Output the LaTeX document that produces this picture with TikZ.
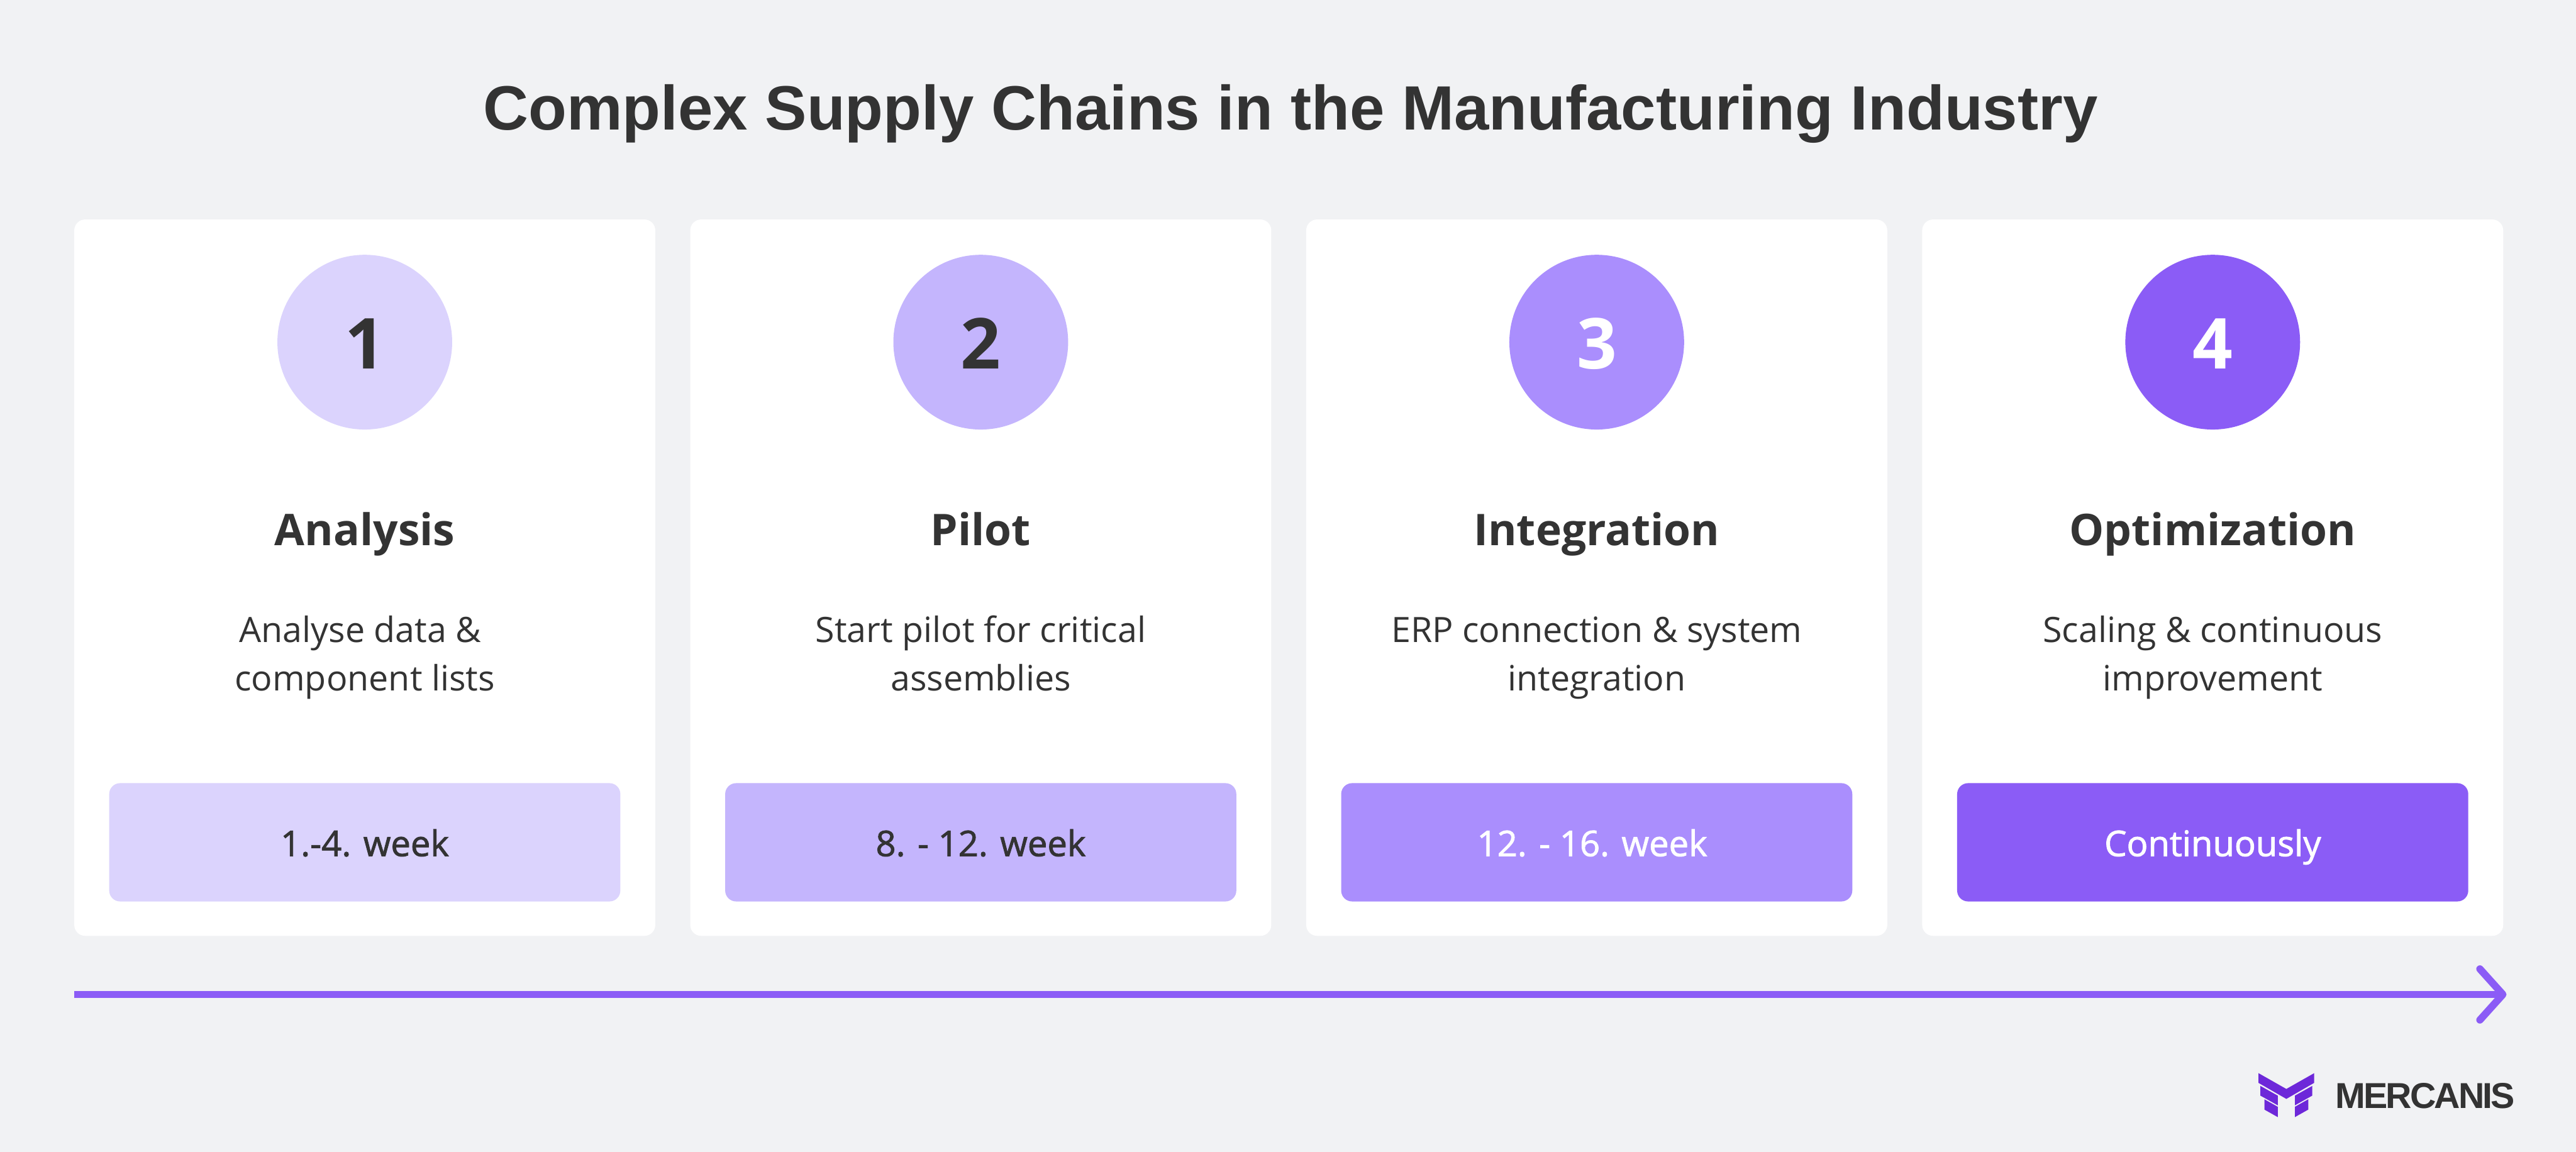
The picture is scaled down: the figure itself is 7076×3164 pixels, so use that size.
\documentclass[tikz,border=0pt]{standalone}
\usepackage{fontspec}
\setmainfont{Open Sans}
\newfontfamily\semifont[FakeBold=1.6]{Open Sans}
\newfontfamily\titlefont{Liberation Sans Bold}
\newfontfamily\logofont[LetterSpace=-5]{Liberation Sans Bold}
\definecolor{bgc}{HTML}{F1F2F4}
\definecolor{inkc}{HTML}{333333}
\definecolor{pa}{HTML}{DBD3FD}
\definecolor{pb}{HTML}{C4B5FD}
\definecolor{pc}{HTML}{AA8EFD}
\definecolor{pd}{HTML}{8B5CF6}
\definecolor{logoc}{HTML}{6D28D9}
\tikzset{
  cardbox/.style={fill=white,draw=none,rounded corners=30pt,minimum width=1596pt,minimum height=1968pt,inner sep=0pt,outer sep=0pt,anchor=north west},
  badge/.style={circle,fill=#1,draw=none,minimum size=480pt,inner sep=0pt,outer sep=0pt},
  pill/.style={fill=#1,draw=none,rounded corners=30pt,minimum width=1404pt,minimum height=325pt,inner sep=0pt,outer sep=0pt},
  numtxt/.style={text=#1,font={\fontsize{193}{193}\selectfont\bfseries},anchor=base},
  headtxt/.style={text=inkc,font={\fontsize{120}{120}\selectfont\bfseries},anchor=base},
  desctxt/.style={text=inkc,font={\fontsize{96}{132}\selectfont},anchor=base},
  weektxt/.style={text=#1,font={\semifont\fontsize{97}{97}\selectfont},anchor=base},
  axisline/.style={draw=pd,line width=20pt},
  axishead/.style={draw=pd,line width=20pt,line cap=round,line join=round},
}
\begin{document}
\begin{tikzpicture}[x=1pt,y=-1pt]
\useasboundingbox (0,0) rectangle (7076,3164);
\fill[bgc] (0,0) rectangle (7076,3164);
\node[text=inkc,anchor=base,font={\titlefont\fontsize{172}{172}\selectfont}] (title) at (3545,356) {Complex Supply Chains in the Manufacturing Industry};
\newcommand{\stepcard}[8]{%
  \node[cardbox] (card#1) at (#2,603) {};
  \node[badge=#3] (circ#1) at (#2+798,940) {};
  \node[numtxt=#4] (num#1) at (#2+798,1014) {#1};
  \node[headtxt] (head#1) at (#2+798,1499) {#5};
  \node[desctxt] (da#1) at (#2+798,1765) {#6};
  \node[desctxt] (db#1) at (#2+798,1897) {#7};
  \node[pill=#3] (pill#1) at (#2+798,2314) {};
  \node[weektxt=#4] (week#1) at (#2+798,2352) {#8};
}
\stepcard{1}{204}{pa}{inkc}{Analysis}{Analyse data \&\hphantom{\ }}{component lists}{1.-4. week}
\stepcard{2}{1896}{pb}{inkc}{Pilot}{Start pilot for critical}{assemblies}{8. - 12. week}
\stepcard{3}{3588}{pc}{white}{Integration}{ERP connection \& system}{integration}{12. - 16. week\hphantom{\ }}
\stepcard{4}{5280}{pd}{white}{Optimization}{Scaling \& continuous}{improvement}{Continuously}
\coordinate (axisstart) at (204,2732);
\coordinate (axistip) at (6875,2732);
\coordinate (wingup) at (6812,2662);
\coordinate (wingdown) at (6812,2802);
\draw[axisline] (axisstart) -- (axistip);
\draw[axishead] (wingup) -- (axistip) -- (wingdown);
\begin{scope}[shift={(6100,2620)},x=0.574pt,y=-0.3333pt]
\fill[logoc] (181,985)--(314,1115)--(447,985)--(447,1065)--(314,1197)--(181,1065)--cycle;
\fill[logoc] (190,1090)--(273,1170)--(273,1250)--(190,1170)--cycle;
\fill[logoc] (438,1090)--(355,1170)--(355,1250)--(438,1170)--cycle;
\fill[logoc] (209,1200)--(273,1262)--(273,1347)--(209,1285)--cycle;
\fill[logoc] (419,1200)--(355,1262)--(355,1347)--(419,1285)--cycle;
\end{scope}
\node[text=inkc,anchor=base west,inner sep=0pt,font={\logofont\fontsize{99}{99}\selectfont}] (logotext) at (6415,3044) {MERCANIS};
\end{tikzpicture}
\end{document}
